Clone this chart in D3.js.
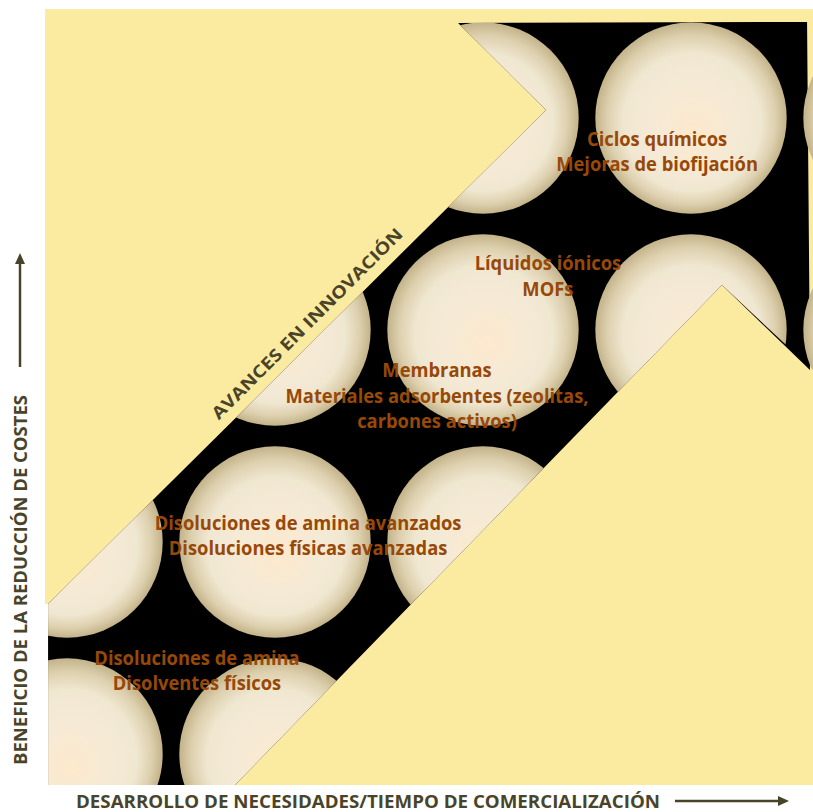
<!DOCTYPE html>
<html>
<head>
<meta charset="utf-8">
<script src="https://cdn.jsdelivr.net/npm/d3@7/dist/d3.min.js"></script>
<style>
  body { margin: 0; background: #fff; }
  text { font-family: "Open Sans", "Liberation Sans", sans-serif; font-weight: bold; }
</style>
</head>
<body>
<svg id="chart" width="813" height="812"></svg>
<script>
// grid of "technology" bubbles (column / row index, in grid units)
var gridCols = [0, 1, 2, 3, 4];
var gridRows = [0, 1, 2, 3];

// innovation stages, bottom-left to top-right
var stageLabels = [
  ["Disoluciones de amina", "Disolventes físicos"],
  ["Disoluciones de amina avanzados", "Disoluciones físicas avanzadas"],
  ["Membranas", "Materiales adsorbentes (zeolitas,", "carbones activos)"],
  ["Líquidos iónicos", "MOFs"],
  ["Ciclos químicos", "Mejoras de biofijación"]
];
// where each stage sits (grid units: time -> x, cost-reduction benefit -> y)
var stageTime = [0.625, 1.159, 1.779, 2.312, 2.837];
var stageBenefit = [0.42, 1.057, 1.778, 2.283, 2.868];

// outline of the innovation band (grid units)
var bandOutline = [
  [1.880, 3.448], [3.558, 3.453], [3.572, 1.811], [3.149, 2.212],
  [0.808, -0.146], [-0.091, -0.146], [-0.091, 0.708], [2.303, 3.038]
];

var xTitle = "DESARROLLO DE NECESIDADES/TIEMPO DE COMERCIALIZACIÓN";
var yTitle = "BENEFICIO DE LA REDUCCIÓN DE COSTES";
var bandTitle = "AVANCES EN INNOVACIÓN";

var yellow = "#fbeba1",
  brown = "#984807",
  olive = "#494429";

var svg = d3.select("#chart");
var frame = { left: 45, top: 9, right: 813, bottom: 785 };

var x = d3.scaleLinear().domain([0, 4]).range([67, 899]);
var y = d3.scaleLinear().domain([0, 3]).range([754, 118]);
var r = (x(1) - x(0)) * 0.46;

var defs = svg.append("defs");
var grad = defs
  .append("radialGradient")
  .attr("id", "ball")
  .attr("cx", "50%")
  .attr("cy", "50%")
  .attr("r", "50%")
  .attr("fx", "52%")
  .attr("fy", "58%");
[
  [0, "#fde9cd"],
  [0.45, "#f5ead6"],
  [0.72, "#f0e7d1"],
  [0.88, "#ddd0ae"],
  [1, "#c3b38a"]
].forEach(function(s) {
  grad.append("stop").attr("offset", s[0]).attr("stop-color", s[1]);
});

var line = d3
  .line()
  .x(function(d) { return x(d[0]); })
  .y(function(d) { return y(d[1]); });

// clip for the bubbles: band, pushed to the right edge
var clipOutline = bandOutline.map(function(p) {
  return [p[0] > 3.5 ? x.invert(frame.right) : p[0], p[1]];
});
defs
  .append("clipPath")
  .attr("id", "clip-band")
  .append("path")
  .attr("d", line(clipOutline) + "Z");

// yellow background
svg
  .append("path")
  .attr("fill", yellow)
  .attr(
    "d",
    "M" + frame.left + "," + frame.top +
    "H" + frame.right + "V" + frame.bottom +
    "H" + x(-0.091) + "V" + y(0.708) + "H" + frame.left + "Z"
  );

// black band
svg
  .append("path")
  .attr("d", line(bandOutline) + "Z")
  .attr("fill", "#000");

var cells = [];
gridRows.forEach(function(row) {
  gridCols.forEach(function(col) {
    cells.push({ col: col, row: row });
  });
});

svg
  .append("g")
  .attr("clip-path", "url(#clip-band)")
  .selectAll("circle")
  .data(cells)
  .join("circle")
  .attr("cx", function(d) { return x(d.col); })
  .attr("cy", function(d) { return y(d.row); })
  .attr("r", r)
  .attr("fill", "url(#ball)");

// stage labels
var labelFit = 0.94,
  lineGap = 25.5;
var labels = svg.append("g");
stageLabels.forEach(function(lines, i) {
  lines.forEach(function(txt, j) {
    var t = labels
      .append("text")
      .attr("x", x(stageTime[i]))
      .attr("y", y(stageBenefit[i]) + j * lineGap)
      .attr("text-anchor", "middle")
      .attr("font-size", 19.5)
      .attr("fill", brown)
      .text(txt);
    var w = t.node().getComputedTextLength();
    t.attr("textLength", w * labelFit).attr("lengthAdjust", "spacingAndGlyphs");
  });
});

// band title along the diagonal
svg
  .append("text")
  .attr("transform", "translate(" + x(1.175) + "," + y(2.01) + ") rotate(-45)")
  .attr("text-anchor", "middle")
  .attr("font-size", 17)
  .attr("fill", olive)
  .attr("textLength", 262)
  .attr("lengthAdjust", "spacingAndGlyphs")
  .text(bandTitle);

// axis titles
svg
  .append("text")
  .attr("x", 368)
  .attr("y", 808)
  .attr("text-anchor", "middle")
  .attr("font-size", 17.5)
  .attr("fill", olive)
  .attr("textLength", 584)
  .attr("lengthAdjust", "spacingAndGlyphs")
  .text(xTitle);

svg
  .append("text")
  .attr("transform", "translate(27,580) rotate(-90)")
  .attr("text-anchor", "middle")
  .attr("font-size", 17.5)
  .attr("fill", olive)
  .attr("textLength", 370)
  .attr("lengthAdjust", "spacingAndGlyphs")
  .text(yTitle);

// arrows
function arrow(x1, y1, x2, y2) {
  var a = Math.atan2(y2 - y1, x2 - x1),
    len = 11,
    half = 5;
  var bx = x2 - len * Math.cos(a),
    by = y2 - len * Math.sin(a);
  svg
    .append("line")
    .attr("x1", x1)
    .attr("y1", y1)
    .attr("x2", bx)
    .attr("y2", by)
    .attr("stroke", olive)
    .attr("stroke-width", 2.5);
  svg
    .append("path")
    .attr("fill", olive)
    .attr(
      "d",
      "M" + x2 + "," + y2 +
      "L" + (bx - half * Math.sin(a)) + "," + (by + half * Math.cos(a)) +
      "L" + (bx + half * Math.sin(a)) + "," + (by - half * Math.cos(a)) + "Z"
    );
}
arrow(20, 367, 20, 253);
arrow(675, 801, 789, 801);
</script>
</body>
</html>
